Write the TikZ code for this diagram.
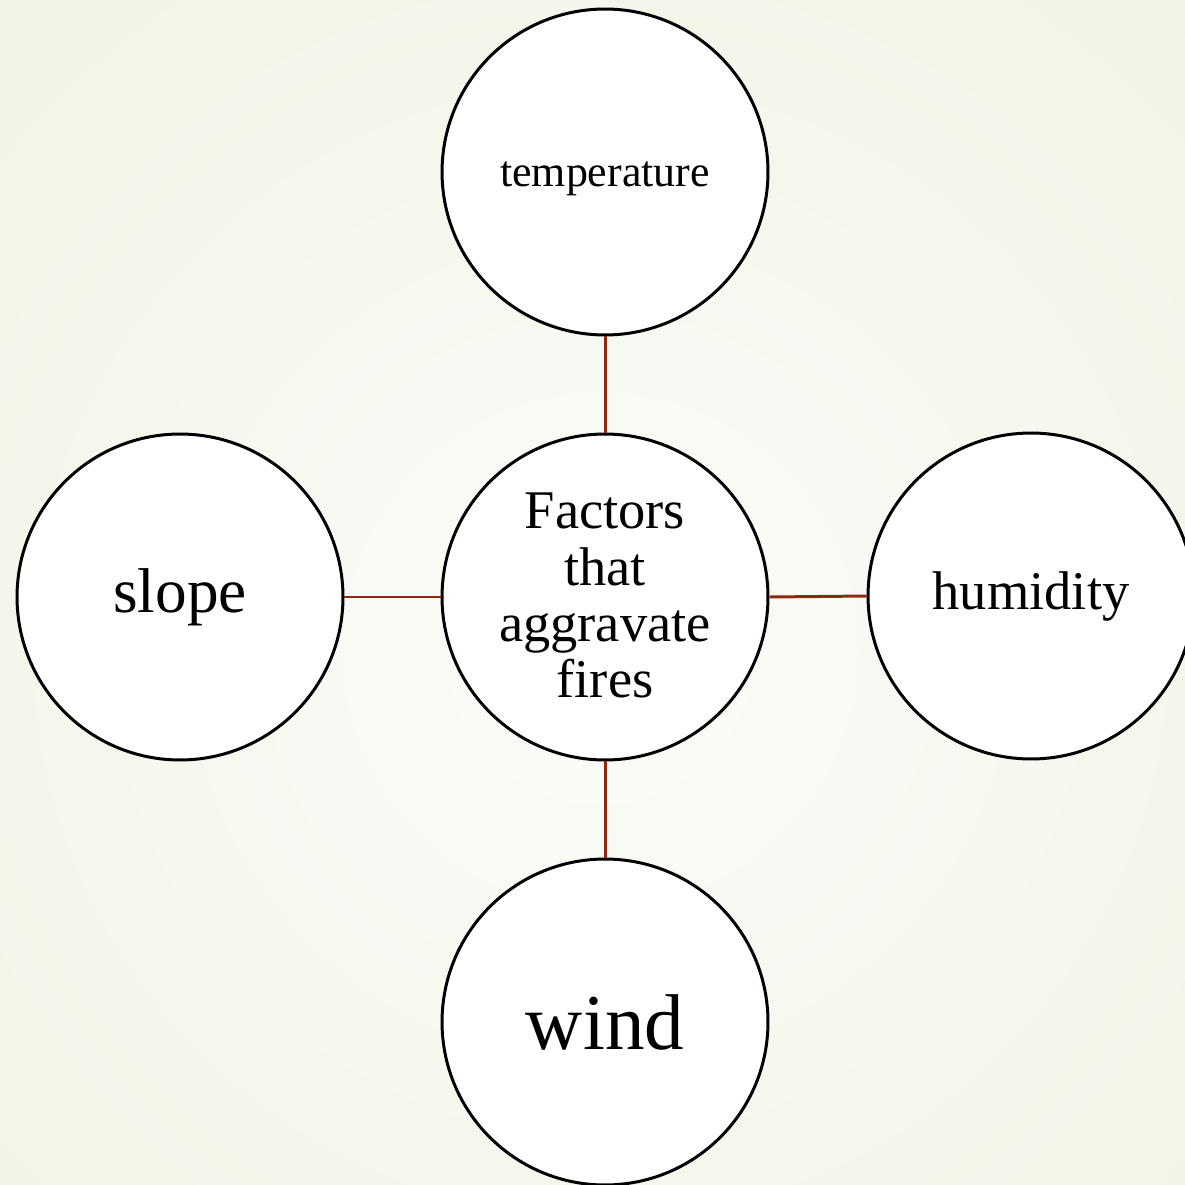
\documentclass[tikz,border=0pt]{standalone}
\usepackage{fontspec}
\setmainfont{Liberation Serif}
\definecolor{bgedge}{HTML}{E6ECD3}
\definecolor{bgmid}{HTML}{FCFCF9}
\definecolor{conn}{HTML}{8B2A10}
\begin{document}
\begin{tikzpicture}[x=0.02cm,y=-0.02cm,
  bubble/.style={circle,draw=black,line width=1.7pt,fill=white,minimum size=6.52cm,inner sep=0pt,align=center},
  link/.style={draw=conn,line width=1.7pt}]
\useasboundingbox (0,0) rectangle (1184,1185);
\shade[inner color=bgmid,outer color=bgedge] (-1050,-1000) rectangle (2250,2300);
\node[bubble,font=\fontsize{31}{32}\selectfont] (c) at (605,597) {\raisebox{-9pt}[0pt][0pt]{\begin{tabular}{@{}c@{}}Factors\\that\\aggravate\\fires\end{tabular}}};
\node[bubble,font=\fontsize{25}{30}\selectfont] (t) at (605,172) {\raisebox{-8pt}[0pt][0pt]{temperature}};
\node[bubble,font=\fontsize{45}{50}\selectfont] (w) at (605,1022) {wind};
\node[bubble,font=\fontsize{36}{40}\selectfont] (s) at (180,597) {slope};
\node[bubble,font=\fontsize{31}{36}\selectfont] (h) at (1031,596) {humidity};
\draw[link] (c) -- (t);
\draw[link] (c) -- (w);
\draw[link] (c) -- (s);
\draw[link] (c.east) -- (h.west);
\end{tikzpicture}
\end{document}
